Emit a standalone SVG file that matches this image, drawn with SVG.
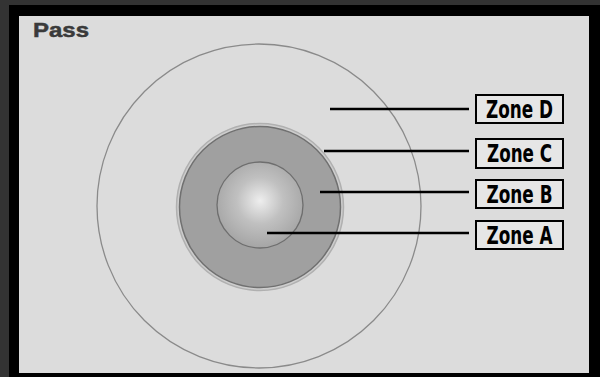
<svg xmlns="http://www.w3.org/2000/svg" width="600" height="377" viewBox="0 0 600 377">
<defs>
<radialGradient id="gA" cx="0.5" cy="0.45" r="0.6">
<stop offset="0" stop-color="#eeeeee"/>
<stop offset="0.45" stop-color="#c0c0c0"/>
<stop offset="1" stop-color="#a0a0a0"/>
</radialGradient>
<style>
.lead{stroke:#000;stroke-width:2.5}
.box{fill:#e6e6e6;stroke:#000;stroke-width:2}
.lbl{font-family:"DejaVu Sans Condensed","DejaVu Sans",sans-serif;font-weight:bold;font-size:24px;fill:#000}
</style>
</defs>
<rect x="0" y="0" width="600" height="377" fill="#333"/>
<rect x="9" y="5" width="591" height="372" fill="#000"/>
<rect x="19" y="16" width="570" height="357" fill="#dcdcdc"/>
<text x="33" y="37" font-family="Liberation Sans, Arial, sans-serif" font-weight="bold" font-size="21" fill="#3a3a3a" stroke="#3a3a3a" stroke-width="0.5" textLength="56" lengthAdjust="spacingAndGlyphs">Pass</text>
<g id="zoneD"><circle cx="259" cy="206" r="162" fill="none" stroke="#8a8a8a" stroke-width="1.3"/></g>
<g id="zoneC"><circle cx="260" cy="207" r="83.5" fill="#cdcdcd" stroke="#b0b0b0" stroke-width="1.5"/></g>
<g id="zoneB"><circle cx="260" cy="207" r="80.5" fill="#a0a0a0" stroke="#707070" stroke-width="1.5"/></g>
<g id="zoneA"><circle cx="260" cy="205" r="43" fill="url(#gA)" stroke="#6e6e6e" stroke-width="1.3"/></g>
<g id="connectors">
<line class="lead" x1="330" y1="109" x2="469" y2="109"/>
<line class="lead" x1="324" y1="151" x2="469" y2="151"/>
<line class="lead" x1="320" y1="192" x2="469" y2="192"/>
<line class="lead" x1="267" y1="233" x2="469" y2="233"/>
</g>
<g id="labelD"><rect class="box" x="476" y="95" width="87" height="28"/><text class="lbl" x="519.5" y="117.5" text-anchor="middle" textLength="67" lengthAdjust="spacingAndGlyphs">Zone D</text></g>
<g id="labelC"><rect class="box" x="476" y="139" width="87" height="29"/><text class="lbl" x="519.5" y="162" text-anchor="middle" textLength="65" lengthAdjust="spacingAndGlyphs">Zone C</text></g>
<g id="labelB"><rect class="box" x="476" y="180" width="87" height="28"/><text class="lbl" x="519.5" y="202.5" text-anchor="middle" textLength="66" lengthAdjust="spacingAndGlyphs">Zone B</text></g>
<g id="labelA"><rect class="box" x="476" y="221" width="87" height="28"/><text class="lbl" x="519.5" y="243.5" text-anchor="middle" textLength="66" lengthAdjust="spacingAndGlyphs">Zone A</text></g>
</svg>
